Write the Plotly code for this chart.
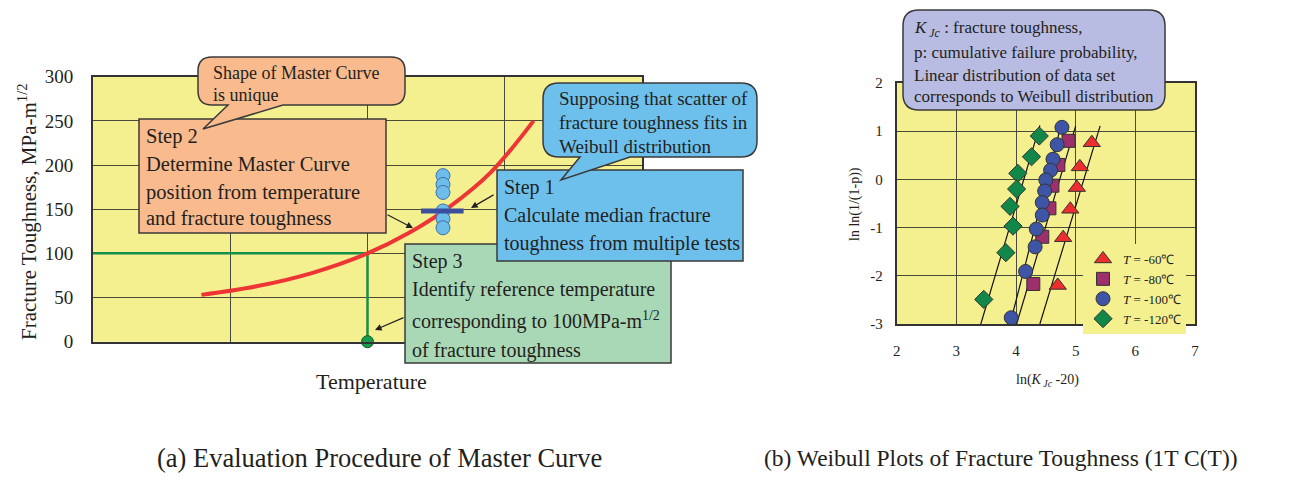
import plotly.graph_objects as go

# page has an 8px body margin, so the figure is 16px smaller than the window
OFF = 8
W, H = 1316 - 2 * OFF, 482 - 2 * OFF
SERIF = "Liberation Serif"
INK = "#231f20"
PLOT_BG = "#f5f08f"

# --- (a) Master curve ---
curve_x = [0.79, 1.2, 1.6, 2.0, 2.3, 2.6, 2.9, 3.21]
curve_y = [53, 63, 78, 100, 123, 153, 192, 250]
test_x = [2.55, 2.55, 2.55, 2.55, 2.55, 2.55]
test_k = [188, 178, 169, 148, 139, 129]
median_x = [2.39, 2.70]
median_k = [148, 148]
ref_x = [0, 2.0, 2.0]
ref_k = [100, 100, 0]
t0_x = [2.0]
t0_k = [0]
k_ticks = [0, 50, 100, 150, 200, 250, 300]

# --- (b) Weibull plots: ln(KJc-20) vs ln ln(1/(1-p)) ---
t60_x = [5.27, 5.07, 5.02, 4.91, 4.79, 4.70]
t60_y = [0.76, 0.26, -0.17, -0.62, -1.21, -2.20]
t80_x = [4.88, 4.71, 4.61, 4.56, 4.44, 4.29]
t80_y = [0.80, 0.30, -0.13, -0.60, -1.19, -2.17]
t100_x = [4.77, 4.69, 4.62, 4.58, 4.50, 4.48, 4.44, 4.44, 4.34, 4.32, 4.16, 3.92]
t100_y = [1.08, 0.72, 0.42, 0.19, -0.01, -0.24, -0.48, -0.74, -1.03, -1.40, -1.91, -2.87]
t120_x = [4.39, 4.26, 4.03, 4.01, 3.90, 3.95, 3.83, 3.46]
t120_y = [0.90, 0.47, 0.125, -0.20, -0.56, -0.97, -1.52, -2.49]

# fitted lines (end points)
fit60_x, fit60_y = [4.40, 5.41], [-3.0, 1.11]
fit80_x, fit80_y = [4.01, 5.00], [-3.0, 1.11]
fit100_x, fit100_y = [3.90, 4.75], [-3.0, 1.10]
fit120_x, fit120_y = [3.41, 4.40], [-3.0, 1.12]

lnk_ticks = [2, 3, 4, 5, 6, 7]
lnk_labels = ["2", "3", "4", "5", "6", "7"]
lnp_ticks = [-3, -2, -1, 0, 1, 2]
lnp_labels = ["-3", "-2", "-1", "0", "1", "2"]

legend_names = ["<i>T</i> = -60℃", "<i>T</i> = -80℃", "<i>T</i> = -100℃", "<i>T</i> = -120℃"]


def X(p):
    return (p - OFF) / W


def Y(p):
    return 1 - (p - OFF) / H


def callout_path(x0, y0, x1, y1, r, tail=None):
    """Rounded box (pixel coords) with an optional tail on the bottom edge."""
    pts = [("M", x0 + r, y0), ("L", x1 - r, y0), ("Q", x1, y0, x1, y0 + r),
           ("L", x1, y1 - r), ("Q", x1, y1, x1 - r, y1)]
    if tail:
        bl, br, tx, ty = tail
        pts += [("L", br, y1), ("L", tx, ty), ("L", bl, y1)]
    pts += [("L", x0 + r, y1), ("Q", x0, y1, x0, y1 - r),
            ("L", x0, y0 + r), ("Q", x0, y0, x0 + r, y0)]
    out = []
    for p in pts:
        cmd, vals = p[0], p[1:]
        coords = []
        for i in range(0, len(vals), 2):
            coords.append(f"{X(vals[i]):.5f},{Y(vals[i + 1]):.5f}")
        out.append(cmd + " ".join(coords))
    return " ".join(out) + " Z"


fig = go.Figure()

# (a) traces
fig.add_trace(go.Scatter(x=ref_x, y=ref_k, mode="lines", line=dict(color="#15904a", width=2.5),
                         xaxis="x", yaxis="y", showlegend=False))
fig.add_trace(go.Scatter(x=curve_x, y=curve_y, mode="lines", line=dict(color="#ee3535", width=4, shape="spline"),
                         xaxis="x", yaxis="y", showlegend=False))
fig.add_trace(go.Scatter(x=test_x, y=test_k, mode="markers",
                         marker=dict(size=14, color="#6cbdea", line=dict(color="#3f6fae", width=1)),
                         xaxis="x", yaxis="y", showlegend=False))
fig.add_trace(go.Scatter(x=median_x, y=median_k, mode="lines", line=dict(color="#3b4f9f", width=5),
                         xaxis="x", yaxis="y", showlegend=False))
fig.add_trace(go.Scatter(x=t0_x, y=t0_k, mode="markers", cliponaxis=False,
                         marker=dict(size=12, color="#1a9a4c", line=dict(color="#0c5a2a", width=1)),
                         xaxis="x", yaxis="y", showlegend=False))

# (b) fitted lines
for fx, fy in [(fit60_x, fit60_y), (fit80_x, fit80_y), (fit100_x, fit100_y), (fit120_x, fit120_y)]:
    fig.add_trace(go.Scatter(x=fx, y=fy, mode="lines", line=dict(color="#111", width=1.2),
                             xaxis="x2", yaxis="y2", showlegend=False))

series = [
    (t60_x, t60_y, "triangle-up", "#ee2e2e", 15),
    (t80_x, t80_y, "square", "#9c2f6c", 13),
    (t100_x, t100_y, "circle", "#3e55a6", 14),
    (t120_x, t120_y, "diamond", "#12874a", 14),
]
for (sx, sy, sym, col, size), name in zip(series, legend_names):
    fig.add_trace(go.Scatter(x=sx, y=sy, mode="markers", name=name,
                             marker=dict(symbol=sym, size=size, color=col, line=dict(color="#333", width=1)),
                             xaxis="x2", yaxis="y2"))

axis_common = dict(showgrid=True, gridcolor="#4a4a3a", gridwidth=1, zeroline=False, automargin=False,
                   showline=True, mirror=True, linecolor="#333", linewidth=2, ticks="",
                   tickfont=dict(family=SERIF, size=19, color=INK))
small_font = dict(family=SERIF, size=15, color=INK)

fig.update_layout(
    template="none",
    width=W, height=H,
    margin=dict(l=0, r=0, t=0, b=0, autoexpand=False),
    paper_bgcolor="white",
    plot_bgcolor=PLOT_BG,
    xaxis=dict(axis_common, domain=[X(93), X(642)], range=[0, 4], tickvals=[1, 2, 3],
               showticklabels=False, anchor="y"),
    yaxis=dict(axis_common, domain=[Y(341.7), Y(76.7)], range=[0, 300], tickvals=k_ticks,
               ticklabelstandoff=14, anchor="x"),
    xaxis2=dict(axis_common, domain=[X(896.7), X(1195)], range=[2, 7], tickvals=lnk_ticks,
                ticktext=lnk_labels, anchor="y2", tickfont=small_font, ticklabelstandoff=12),
    yaxis2=dict(axis_common, domain=[Y(324), Y(83)], range=[-3, 2], tickvals=lnp_ticks,
                ticktext=lnp_labels, anchor="x2", tickfont=small_font, ticklabelstandoff=9),
    legend=dict(x=X(1083), y=Y(244), xanchor="left", yanchor="top", bgcolor=PLOT_BG,
                font=dict(family=SERIF, size=13, color=INK), itemwidth=30,
                tracegroupgap=0, borderwidth=0),
)

shapes = []
PEACH, BLUE, GREEN, LAV = "#f9bb8d", "#6dc0ec", "#a9d8b6", "#b9bce2"
BORDER = dict(color="#3a3a3a", width=1.5)

# step boxes (Step 3 under Step 1)
for x0, y0, x1, y1, col in [(139, 119, 386, 233, PEACH), (405, 244, 671, 363, GREEN), (497, 170, 743, 261, BLUE)]:
    shapes.append(dict(type="rect", xref="paper", yref="paper", layer="above", fillcolor=col, line=BORDER,
                       x0=X(x0), x1=X(x1), y0=Y(y1), y1=Y(y0)))
# callouts with tails, drawn over the step boxes
shapes.append(dict(type="path", xref="paper", yref="paper", layer="above", fillcolor=PEACH, line=BORDER,
                   path=callout_path(198, 57, 405, 105, 14, tail=(228, 283, 203, 129))))
shapes.append(dict(type="path", xref="paper", yref="paper", layer="above", fillcolor=BLUE, line=BORDER,
                   path=callout_path(543, 83, 757, 157, 16, tail=(580, 630, 561, 180))))
shapes.append(dict(type="path", xref="paper", yref="paper", layer="above", fillcolor=LAV, line=BORDER,
                   path=callout_path(903, 10, 1165, 110, 16)))
fig.update_layout(shapes=shapes)


def text_lines(x, ys, lines, size):
    for yy, t in zip(ys, lines):
        fig.add_annotation(x=X(x), y=Y(yy), xref="paper", yref="paper", text=t, showarrow=False,
                           xanchor="left", yanchor="middle",
                           font=dict(family=SERIF, size=size, color=INK))


def label(x, y, text, size, angle=0):
    fig.add_annotation(x=X(x), y=Y(y), xref="paper", yref="paper", text=text, showarrow=False,
                       xanchor="center", yanchor="middle", textangle=angle,
                       font=dict(family=SERIF, size=size, color=INK))


text_lines(211, [73, 95], ["Shape of Master Curve", "is unique"], 18)
text_lines(144, [136, 164, 192, 219],
           ["Step 2", "Determine Master Curve", "position from temperature", "and fracture toughness"], 20.5)
text_lines(557, [98, 122, 146],
           ["Supposing that scatter of", "fracture toughness fits in", "Weibull distribution"], 19)
text_lines(502, [187, 215, 243],
           ["Step 1", "Calculate median fracture", "toughness from multiple tests"], 20)
text_lines(410, [261, 289, 320, 350],
           ["Step 3", "Identify reference temperature",
            "corresponding to 100MPa-m<sup>1/2</sup>", "of fracture toughness"], 20)
text_lines(912, [29, 52, 75, 97],
           ["<i>K</i><sub><i> Jc</i></sub> : fracture toughness,", "p: cumulative failure probability,",
            "Linear distribution of data set", "corresponds to Weibull distribution"], 17)

# arrows (tip, tail in pixels)
for tip, tail in [((413, 228), (386, 214)), ((471, 208), (495, 194)), ((375, 330), (405, 317))]:
    fig.add_annotation(x=X(tip[0]), y=Y(tip[1]), xref="paper", yref="paper", text="",
                       showarrow=True, arrowhead=2, arrowsize=1.1, arrowwidth=1.2, arrowcolor="#222",
                       ax=tail[0] - tip[0], ay=tail[1] - tip[1])

# axis titles and captions
label(28, 212, "Fracture Toughness, MPa-m<sup>1/2</sup>", 21, -90)
label(371, 381, "Temperature", 22)
label(855, 204, "ln ln(1/(1-p))", 14, -90)
label(1047, 380, "ln(<i>K</i><sub><i> Jc</i></sub> -20)", 14)
label(379, 458, "(a) Evaluation Procedure of Master Curve", 26.5)
label(1001, 458, "(b) Weibull Plots of Fracture Toughness (1T C(T))", 23.5)

fig.write_html("out.html")
